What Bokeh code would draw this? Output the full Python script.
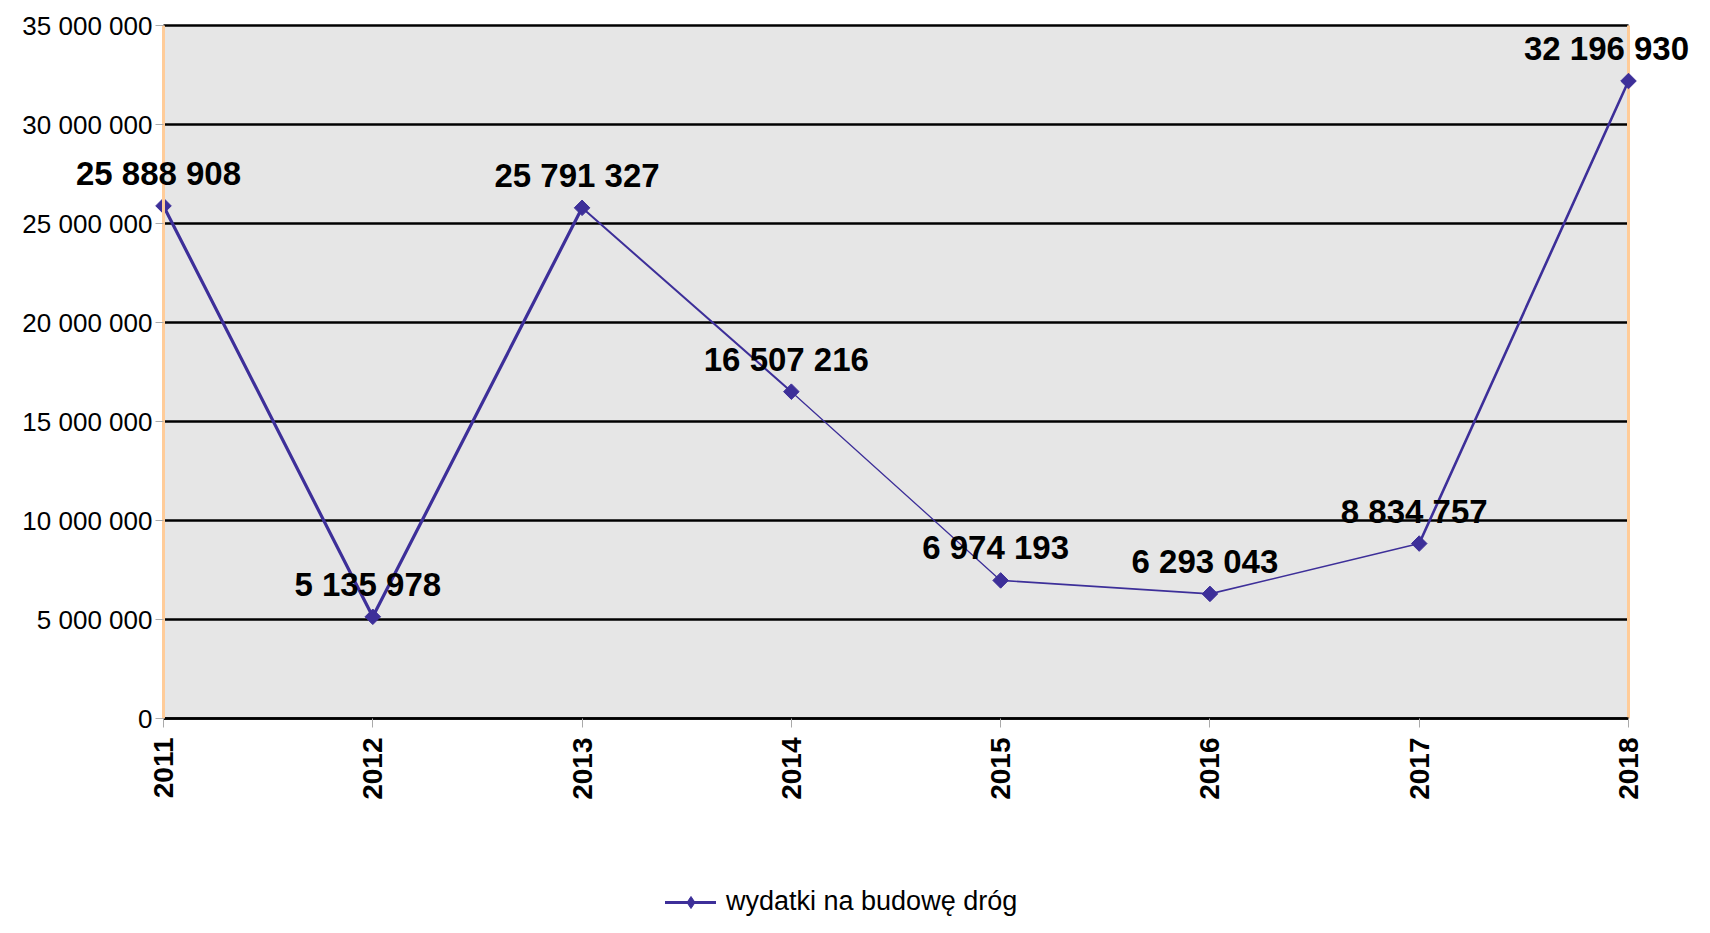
import math
from bokeh.plotting import figure
from bokeh.models import (ColumnDataSource, Range1d, FixedTicker, LabelSet,
                          Legend, LegendItem, BoxAnnotation)
from bokeh.core.properties import value
from bokeh.embed import file_html
from bokeh.resources import INLINE

# ---- data ----
years = [2011, 2012, 2013, 2014, 2015, 2016, 2017, 2018]
values = [25888908, 5135978, 25791327, 16507216, 6974193, 6293043, 8834757, 32196930]
series_name = "wydatki na budowę dróg"
y_ticks = [0, 5000000, 10000000, 15000000, 20000000, 25000000, 30000000, 35000000]


def fmt(v):
    return f"{v:,}".replace(",", " ")


# ---- styles / layout ----
LINE_C = "#3D2F99"
ORANGE = "#FFCC99"
FONT = "Liberation Sans"
seg_widths = [3.2, 3.2, 2.0, 1.3, 1.6, 1.6, 2.6]
label_dx = [-5, -5, -5, -5, -5, -5, -5, -22]

W, H = 1694, 917
AREA_L, AREA_R = 163, 1628      # canvas px of first / last year
AREA_T, AREA_B = 25, 718        # canvas px of top / bottom tick
px_x = (AREA_R - AREA_L) / (years[-1] - years[0])
px_y = (AREA_B - AREA_T) / (y_ticks[-1] - y_ticks[0])
x_lo = years[0] - AREA_L / px_x
x_hi = years[-1] + (W - AREA_R) / px_x
y_lo = y_ticks[0] - (H - AREA_B) / px_y
y_hi = y_ticks[-1] + AREA_T / px_y

p = figure(width=W, height=H, output_backend="svg", toolbar_location=None,
           x_range=Range1d(x_lo, x_hi), y_range=Range1d(y_lo, y_hi),
           min_border_left=0, min_border_right=0, min_border_top=0,
           min_border_bottom=0)
p.background_fill_color = "white"
p.border_fill_color = "white"
p.outline_line_color = None
p.xgrid.visible = False
p.ygrid.visible = False

# grey plot area
p.add_layout(BoxAnnotation(left=years[0], right=years[-1], bottom=y_ticks[0],
                           top=y_ticks[-1], fill_color="#E6E6E6", fill_alpha=1,
                           line_color=None, level="image"))

# horizontal grid lines within the plot area
n = len(y_ticks)
p.segment(x0=[years[0]] * n, x1=[years[-1]] * n, y0=y_ticks, y1=y_ticks,
          line_color="black", line_width=2.6, level="underlay")
# right orange edge
p.segment(x0=[years[-1]], x1=[years[-1]], y0=[y_ticks[0]], y1=[y_ticks[-1]],
          line_color=ORANGE, line_width=3, level="underlay")

# y axis fixed at the first year
p.yaxis.fixed_location = years[0]
p.yaxis.bounds = (y_ticks[0], y_ticks[-1])
p.yaxis.ticker = FixedTicker(ticks=y_ticks)
p.yaxis.major_label_overrides = {t: fmt(t) for t in y_ticks}
p.yaxis.axis_line_color = ORANGE
p.yaxis.axis_line_width = 3
p.yaxis.major_tick_line_color = "#AAAAAA"
p.yaxis.major_tick_out = 8
p.yaxis.major_tick_in = 0
p.yaxis.minor_tick_line_color = None
p.yaxis.major_label_text_font = FONT
p.yaxis.major_label_text_font_size = "26px"
p.yaxis.major_label_text_color = "black"
p.yaxis.major_label_standoff = 3

# x axis fixed at zero
p.xaxis.fixed_location = y_ticks[0]
p.xaxis.bounds = (years[0], years[-1])
p.xaxis.ticker = FixedTicker(ticks=years)
p.xaxis.axis_line_color = "black"
p.xaxis.axis_line_width = 2.5
p.xaxis.major_tick_line_color = "#AAAAAA"
p.xaxis.major_tick_out = 9
p.xaxis.major_tick_in = 0
p.xaxis.minor_tick_line_color = None
p.xaxis.major_label_orientation = math.pi / 2
p.xaxis.major_label_text_font = FONT
p.xaxis.major_label_text_font_size = "28px"
p.xaxis.major_label_text_font_style = "bold"
p.xaxis.major_label_text_color = "black"
p.xaxis.major_label_standoff = 10

# series line as segments
seg_src = ColumnDataSource(dict(x0=years[:-1], y0=values[:-1], x1=years[1:],
                                y1=values[1:], w=seg_widths))
seg_r = p.segment("x0", "y0", "x1", "y1", source=seg_src, line_color=LINE_C,
                  line_width="w", line_cap="round")

pt_src = ColumnDataSource(dict(x=years, y=values, label=[fmt(v) for v in values],
                               dx=label_dx))
sc_r = p.scatter("x", "y", source=pt_src, marker="square", angle=math.pi / 4,
                 size=11, fill_color=LINE_C, line_color=LINE_C)
# diamond glyph used only for the legend swatch
lg_r = p.scatter("x", "y", source=pt_src, marker="diamond", size=14,
                 fill_color=LINE_C, line_color=LINE_C, visible=False)

labels = LabelSet(x="x", y="y", text="label", source=pt_src, text_align="center",
                  text_baseline="alphabetic", x_offset="dx", y_offset=21,
                  text_font=value(FONT), text_font_size="33px",
                  text_font_style="bold", text_color="black")
p.add_layout(labels)

legend = Legend(items=[LegendItem(label=series_name, renderers=[seg_r, lg_r], index=0)],
                location=(665, 0), orientation="horizontal", padding=0, margin=0,
                border_line_color=None, background_fill_alpha=0,
                glyph_width=51, glyph_height=30, label_height=28, label_standoff=10,
                label_text_font=FONT, label_text_font_size="27px",
                label_text_color="black")
p.add_layout(legend)

open("out.html", "w").write(file_html(p, INLINE))
